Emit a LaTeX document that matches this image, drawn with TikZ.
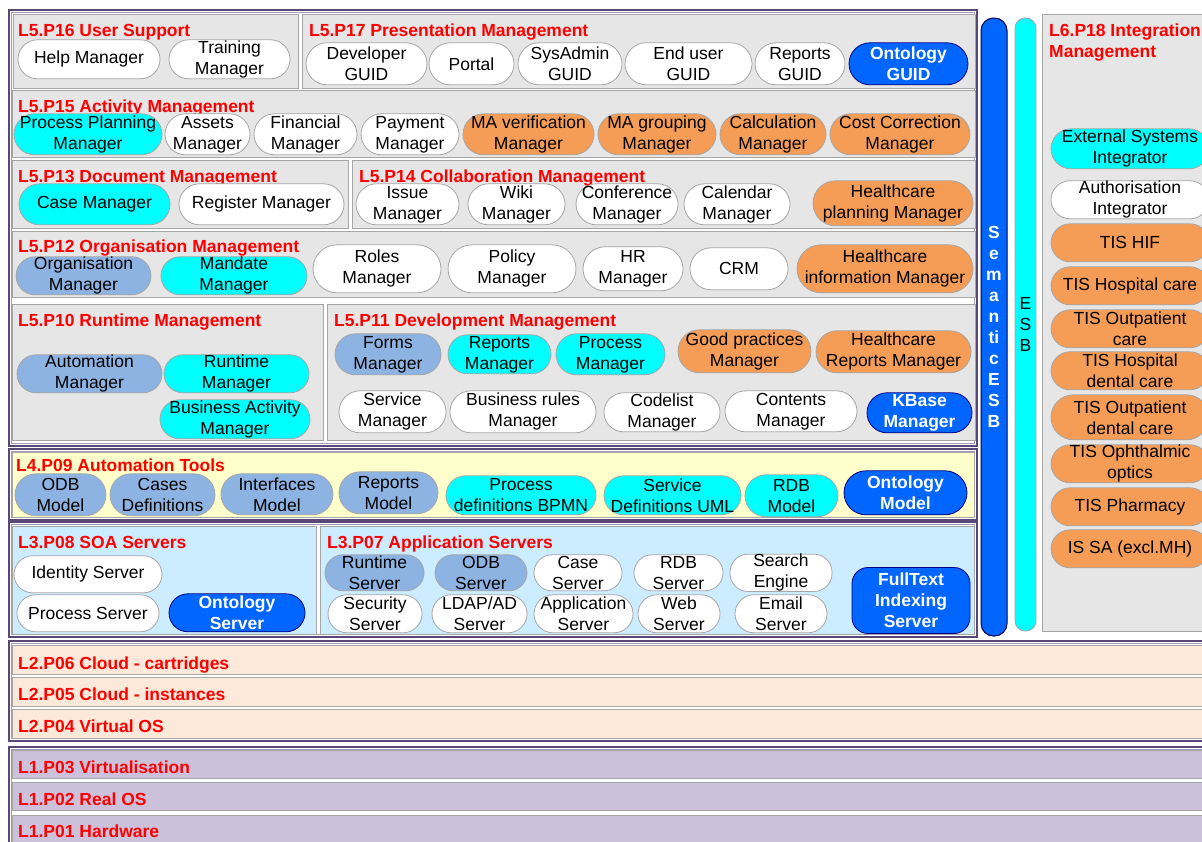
\documentclass[tikz,border=0pt]{standalone}
\usepackage{fontspec}
\setmainfont{Liberation Sans}
\definecolor{pgray}{HTML}{E6E6E6}
\definecolor{bgray}{HTML}{A6A6A6}
\definecolor{pcyan}{HTML}{00FFFF}
\definecolor{pslate}{HTML}{8DB3E2}
\definecolor{porange}{HTML}{F59D56}
\definecolor{pblue}{HTML}{0066FF}
\definecolor{pyellow}{HTML}{FFFFCC}
\definecolor{plblue}{HTML}{CCECFF}
\definecolor{ppeach}{HTML}{FDE9D9}
\definecolor{plav}{HTML}{CCC1DA}
\definecolor{ppurple}{HTML}{584777}
\definecolor{tred}{HTML}{FF0000}
\tikzset{
  pill/.style={rectangle, draw=bgray, line width=0.8pt, inner sep=0pt, align=center,
    font=\fontsize{17.5}{21}\selectfont},
  fwhite/.style={fill=white},
  fcyan/.style={fill=pcyan},
  fslate/.style={fill=pslate},
  forange/.style={fill=porange},
  fblue/.style={fill=pblue, draw=blue!50!black, text=white, font=\fontsize{17.5}{21}\selectfont\bfseries},
  pnl/.style={rectangle, draw=bgray, line width=0.8pt, anchor=north west, inner sep=0pt},
  ttl/.style={anchor=west, inner sep=0pt, text=tred, font=\fontsize{17.5}{21}\selectfont\bfseries,
    text height=12.5pt, text depth=0pt},
  lyrouter/.style={draw=ppurple, line width=1.8pt},
  lyrinner/.style={draw=ppurple!55, line width=0.7pt},
}
\newcommand{\pill}[7]{\node[pill,#6,rounded corners={((#5)-(#3))/2},minimum width={(#4)-(#2)},minimum height={(#5)-(#3)}] (#1) at ({(#2+#4)/2},{(#3+#5)/2+0.8}) {#7};}
\newcommand{\pnlbox}[6]{\node[pnl,fill=#6,minimum width={(#4)-(#2)},minimum height={(#5)-(#3)}] (#1) at (#2,#3) {};}
\newcommand{\lyrframe}[4]{\draw[lyrouter] (#1,#2) rectangle (#3,#4); \draw[lyrinner] ({#1+2.2},{#2+2.2}) rectangle ({#3-2.2},{#4-2.2});}
\begin{document}
\begin{tikzpicture}[x=1pt,y=-1pt]
\useasboundingbox (0,0) rectangle (1202,841);
\clip (0,0) rectangle (1202,841);
\fill[white] (0,0) rectangle (1202,841);

% ---------- layer frames ----------
\lyrframe{9}{10}{977}{446}
\lyrframe{9}{449}{977}{520}
\lyrframe{9}{522}{977}{637}
\lyrframe{9}{641}{1230}{741}
\lyrframe{9}{747}{1230}{860}

% ---------- L5 panels ----------
\pnlbox{p16}{13}{14}{298}{88}{pgray}
\pnlbox{p17}{302}{14}{975}{88}{pgray}
\pnlbox{p15}{12}{90}{975}{157}{pgray}
\pnlbox{p13}{12}{160}{348}{228}{pgray}
\pnlbox{p14}{352}{160}{975}{228}{pgray}
\pnlbox{p12}{12}{231}{975}{297}{pgray}
\pnlbox{p10}{12}{304}{323}{440}{pgray}
\pnlbox{p11}{327}{304}{975}{440}{pgray}
% L4, L3
\pnlbox{p09}{12}{452}{974}{517}{pyellow}
\pnlbox{p08}{12}{526}{316}{634}{plblue}
\pnlbox{p07}{320}{526}{974}{634}{plblue}
% L2, L1 rows
\pnlbox{p06}{12}{645}{1230}{674}{ppeach}
\pnlbox{p05}{12}{677}{1230}{706}{ppeach}
\pnlbox{p04}{12}{709}{1230}{738}{ppeach}
\pnlbox{p03}{12}{750}{1230}{778}{plav}
\pnlbox{p02}{12}{782}{1230}{810}{plav}
\pnlbox{p01}{12}{815}{1230}{860}{plav}
% L6
\pnlbox{p18}{1042}{14}{1230}{631}{pgray}

% ---------- titles ----------
\node[ttl] (t16) at (18,30) {L5.P16 User Support};
\node[ttl] (t17) at (309,30) {L5.P17 Presentation Management};
\node[ttl] (t15) at (18,106) {L5.P15 Activity Management};
\node[ttl] (t13) at (18,176) {L5.P13 Document Management};
\node[ttl] (t14) at (359,176) {L5.P14 Collaboration Management};
\node[ttl] (t12) at (18,246) {L5.P12 Organisation Management};
\node[ttl] (t10) at (18,320) {L5.P10 Runtime Management};
\node[ttl] (t11) at (334,320) {L5.P11 Development Management};
\node[ttl] (t09) at (16,465) {L4.P09 Automation Tools};
\node[ttl] (t08) at (18,542) {L3.P08 SOA Servers};
\node[ttl] (t07) at (327,542) {L3.P07 Application Servers};
\node[ttl] (t18a) at (1049,30) {L6.P18 Integration};
\node[ttl] (t18b) at (1049,51) {Management};
\node[ttl] (t06) at (18,663) {L2.P06 Cloud - cartridges};
\node[ttl] (t05) at (18,694) {L2.P05 Cloud - instances};
\node[ttl] (t04) at (18,726) {L2.P04 Virtual OS};
\node[ttl] (t03) at (18,767) {L1.P03 Virtualisation};
\node[ttl] (t02) at (18,799) {L1.P02 Real OS};
\node[ttl] (t01) at (18,831) {L1.P01 Hardware};

% ---------- L5.P16 ----------
\pill{help}{18}{39}{160}{78}{fwhite}{Help Manager}
\pill{training}{169}{39}{290}{78}{fwhite}{Training\\Manager}
% ---------- L5.P17 ----------
\pill{devguid}{306}{42}{427}{84}{fwhite}{Developer\\GUID}
\pill{portal}{429}{42}{514}{84}{fwhite}{Portal}
\pill{sysguid}{518}{42}{622}{84}{fwhite}{SysAdmin\\GUID}
\pill{endguid}{625}{42}{752}{84}{fwhite}{End user\\GUID}
\pill{repguid}{755}{42}{845}{84}{fwhite}{Reports\\GUID}
\pill{ontguid}{849}{42}{968}{84}{fblue}{Ontology\\GUID}
% ---------- L5.P15 ----------
\pill{ppm}{14}{113}{162}{154}{fcyan}{Process Planning\\Manager}
\pill{assets}{165}{113}{250}{154}{fwhite}{Assets\\Manager}
\pill{financial}{254}{113}{357}{154}{fwhite}{Financial\\Manager}
\pill{payment}{361}{113}{459}{154}{fwhite}{Payment\\Manager}
\pill{maver}{463}{113}{594}{154}{forange}{MA verification\\Manager}
\pill{magroup}{598}{113}{716}{154}{forange}{MA grouping\\Manager}
\pill{calc}{720}{113}{826}{154}{forange}{Calculation\\Manager}
\pill{costcorr}{830}{113}{970}{154}{forange}{Cost Correction\\Manager}
% ---------- L5.P13 ----------
\pill{casem}{19}{183}{170}{224}{fcyan}{Case Manager}
\pill{register}{179}{183}{344}{224}{fwhite}{Register Manager}
% ---------- L5.P14 ----------
\pill{issue}{356}{183}{459}{224}{fwhite}{Issue\\Manager}
\pill{wiki}{468}{183}{565}{224}{fwhite}{Wiki\\Manager}
\pill{conference}{576}{183}{678}{224}{fwhite}{Conference\\Manager}
\pill{calendar}{684}{183}{790}{224}{fwhite}{Calendar\\Manager}
\pill{hcplan}{813}{180}{973}{225}{forange}{Healthcare\\planning Manager}
% ---------- L5.P12 ----------
\pill{orgm}{16}{256}{151}{294}{fslate}{Organisation\\Manager}
\pill{mandate}{161}{256}{307}{294}{fcyan}{Mandate\\Manager}
\pill{roles}{313}{244}{441}{292}{fwhite}{Roles\\Manager}
\pill{policy}{448}{244}{576}{292}{fwhite}{Policy\\Manager}
\pill{hr}{583}{246}{683}{290}{fwhite}{HR\\Manager}
\pill{crm}{690}{247}{788}{289}{fwhite}{CRM}
\pill{hcinfo}{797}{244}{973}{292}{forange}{Healthcare\\information Manager}
% ---------- L5.P10 ----------
\pill{automation}{17}{354}{162}{392}{fslate}{Automation\\Manager}
\pill{runtime}{164}{354}{309}{392}{fcyan}{Runtime\\Manager}
\pill{busact}{160}{399}{310}{438}{fcyan}{Business Activity\\Manager}
% ---------- L5.P11 ----------
\pill{forms}{335}{333}{441}{374}{fslate}{Forms\\Manager}
\pill{reportsm}{448}{334}{551}{373}{fcyan}{Reports\\Manager}
\pill{processm}{556}{333}{665}{374}{fcyan}{Process\\Manager}
\pill{goodpr}{678}{329}{811}{372}{forange}{Good practices\\Manager}
\pill{hcrep}{816}{330}{971}{372}{forange}{Healthcare\\Reports Manager}
\pill{service}{339}{390}{446}{432}{fwhite}{Service\\Manager}
\pill{busrules}{450}{390}{596}{432}{fwhite}{Business rules\\Manager}
\pill{codelist}{604}{392}{720}{431}{fwhite}{Codelist\\Manager}
\pill{contents}{725}{390}{857}{431}{fwhite}{Contents\\Manager}
\pill{kbase}{867}{392}{972}{432}{fblue}{KBase\\Manager}
% ---------- L4.P09 ----------
\pill{odb}{15}{473}{106}{515}{fslate}{ODB\\Model}
\pill{cases}{110}{473}{215}{515}{fslate}{Cases\\Definitions}
\pill{interfaces}{221}{473}{333}{514}{fslate}{Interfaces\\Model}
\pill{repmodel}{339}{471}{438}{513}{fslate}{Reports\\Model}
\pill{procdef}{446}{475}{596}{514}{fcyan}{Process\\definitions BPMN}
\pill{servdef}{604}{475}{741}{514}{fcyan}{Service\\Definitions UML}
\pill{rdbmodel}{745}{474}{838}{516}{fcyan}{RDB\\Model}
\pill{ontmodel}{844}{470}{967}{514}{fblue}{Ontology\\Model}
% ---------- L3.P08 ----------
\pill{identity}{14}{555}{162}{592}{fwhite}{Identity Server}
\pill{procsrv}{17}{594}{159}{631}{fwhite}{Process Server}
\pill{ontsrv}{169}{593}{305}{631}{fblue}{Ontology\\Server}
% ---------- L3.P07 ----------
\pill{runsrv}{325}{554}{424}{590}{fslate}{Runtime\\Server}
\pill{odbsrv}{435}{554}{527}{590}{fslate}{ODB\\Server}
\pill{casesrv}{534}{554}{622}{590}{fwhite}{Case\\Server}
\pill{rdbsrv}{634}{554}{723}{590}{fwhite}{RDB\\Server}
\pill{search}{730}{554}{832}{590}{fwhite}{Search\\Engine}
\pill{secsrv}{328}{594}{422}{632}{fwhite}{Security\\Server}
\pill{ldap}{432}{594}{527}{632}{fwhite}{LDAP/AD\\Server}
\pill{appsrv}{534}{594}{633}{632}{fwhite}{Application\\Server}
\pill{websrv}{638}{594}{720}{632}{fwhite}{Web\\Server}
\pill{emailsrv}{735}{594}{827}{632}{fwhite}{Email\\Server}
\node[pill,fblue,rounded corners=16pt,minimum width=118,minimum height=66] (fulltext) at (911,600.5) {FullText\\Indexing\\Server};

% ---------- ESB bars ----------
\node[rectangle, rounded corners=12.5pt, fill=pblue, draw=blue!30!black, line width=1pt,
  minimum width=26, minimum height=618, inner sep=0pt, align=center, text=white,
  font=\fontsize{17.5}{21}\selectfont\bfseries] (semesb) at (994,327)
  {S\\e\\m\\a\\n\\ti\\c\\E\\S\\B};
\node[rectangle, rounded corners=10pt, fill=pcyan, draw=bgray, line width=0.8pt,
  minimum width=21, minimum height=613, inner sep=0pt, align=center,
  font=\fontsize{17.5}{21}\selectfont] (esb) at (1025.5,324.5) {E\\S\\B};

% ---------- L6.P18 ----------
\pill{extsys}{1051}{128}{1209}{168}{fcyan}{External Systems\\Integrator}
\pill{authint}{1051}{180}{1209}{218}{fwhite}{Authorisation\\Integrator}
\pill{tishif}{1051}{223}{1209}{261}{forange}{TIS HIF}
\pill{tishosp}{1051}{266}{1209}{304}{forange}{TIS Hospital care}
\pill{tisoutp}{1051}{309}{1209}{347}{forange}{TIS Outpatient\\care}
\pill{tishdent}{1051}{351}{1209}{389}{forange}{TIS Hospital\\dental care}
\pill{tisodent}{1051}{394}{1209}{439}{forange}{TIS Outpatient\\dental care}
\pill{tisopt}{1051}{444}{1209}{482}{forange}{TIS Ophthalmic\\optics}
\pill{tispharm}{1051}{487}{1209}{525}{forange}{TIS Pharmacy}
\pill{issa}{1051}{529}{1209}{567}{forange}{IS SA (excl.MH)}
\end{tikzpicture}
\end{document}
